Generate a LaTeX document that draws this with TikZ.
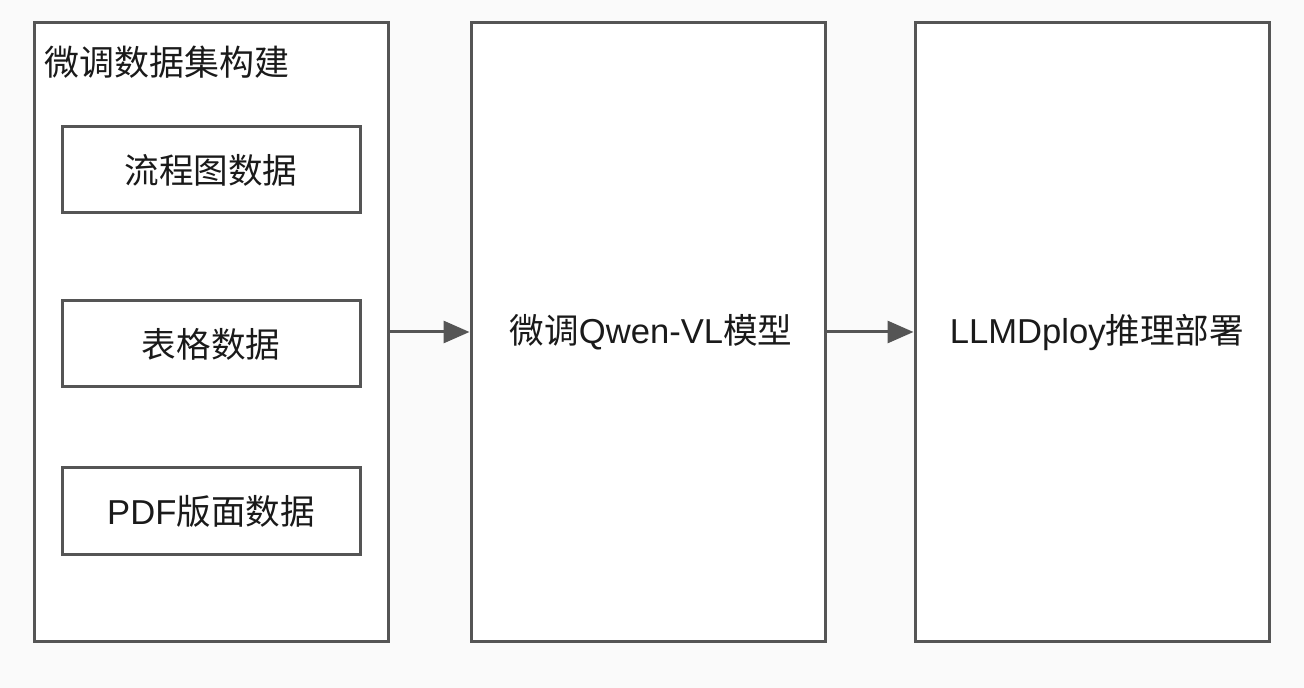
\documentclass[tikz,border=0pt]{standalone}
\usepackage{fontspec}
\setmainfont{Liberation Sans}
\newfontfamily\cjk{Noto Sans CJK SC}
\usepackage{xcolor}
\usepackage{tikz}
\usetikzlibrary{positioning,arrows.meta}
\definecolor{paper}{HTML}{FAFAFA}
\definecolor{ink}{HTML}{555555}
\definecolor{txt}{HTML}{1A1A1A}
\tikzset{
  stage/.style={draw=ink, line width=1.5pt, fill=white, minimum width=177pt, minimum height=309pt, inner sep=0pt, text=txt, font=\fontsize{17.3}{19}\selectfont},
  item/.style={draw=ink, line width=1.5pt, fill=white, minimum width=149pt, minimum height=43pt, inner sep=0pt, text=txt, font=\fontsize{17.3}{19}\selectfont},
  lab/.style={text=txt, font=\fontsize{17.5}{19}\selectfont, inner sep=0pt},
  flow/.style={draw=ink, line width=1.5pt, -{Triangle[length=13pt,width=11pt]}},
}

\begin{document}
\begin{tikzpicture}[x=0.5pt, y=-0.5pt]
  \fill[paper] (0,0) rectangle (1304,688);
  \useasboundingbox (0,0) rectangle (1304,688);

  % three stages
  \node[stage] (data) at (211,332) {};
  \node[stage] (tune) at (648,332) {\hspace*{3pt}{\cjk 微调}Qwen-VL{\cjk 模型}};
  \node[stage] (deploy) at (1092,332) {\hspace*{5pt}LLMDploy{\cjk 推理部署}};

  \node[lab, anchor=west] (title) at (44,62) {\cjk 微调数据集构建};

  % data sources
  \node[item] (flowchart) at (211,170) {\cjk 流程图数据};
  \node[item] (table) at (211,344) {\cjk 表格数据};
  \node[item] (pdf) at (211,511) {PDF{\cjk 版面数据}};

  \draw[flow] (data.east) -- (tune.west);
  \draw[flow] (tune.east) -- (deploy.west);
\end{tikzpicture}
\end{document}
